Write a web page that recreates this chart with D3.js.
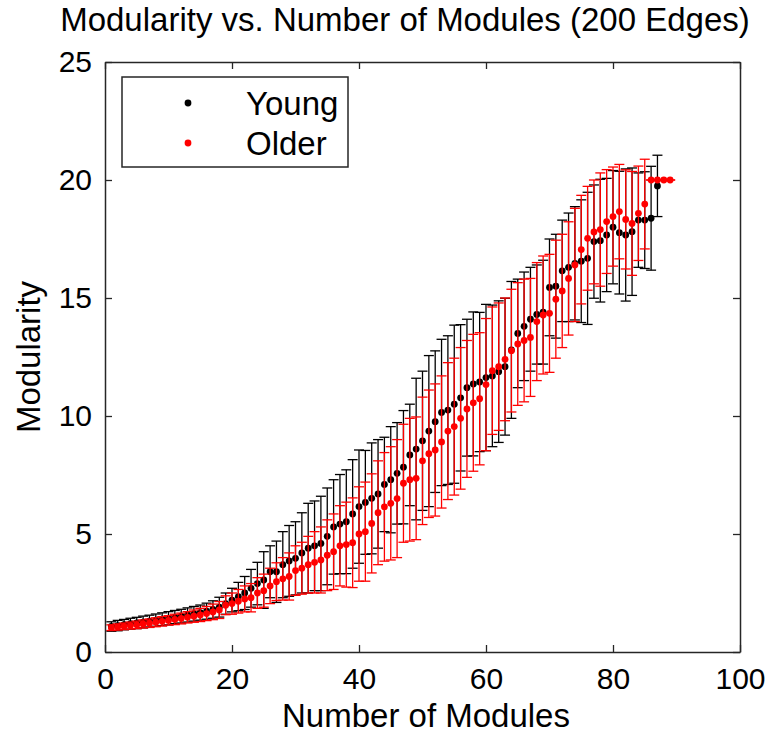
<!DOCTYPE html>
<html>
<head>
<meta charset="utf-8">
<script src="https://cdn.jsdelivr.net/npm/d3@7"></script>
<style>
  html, body { margin: 0; padding: 0; background: #fff; }
  svg { display: block; font-family: "Liberation Sans", Arial, Helvetica, sans-serif; }
</style>
</head>
<body>
<div id="chart"></div>
<script>
// ---- Data ----
const youngModules = d3.range(1, 88);   // 1..87
const youngMean = [
  1.08,1.12,1.16,1.20,1.23,1.27,1.31,1.35,1.39,1.43,
  1.48,1.52,1.57,1.62,1.67,1.73,1.80,1.90,2.05,2.20,
  2.35,2.50,2.70,2.90,3.05,3.40,3.40,3.70,3.86,3.97,
  4.20,4.40,4.50,4.60,4.90,5.30,5.42,5.52,5.85,6.16,
  6.34,6.51,6.70,7.10,7.30,7.57,7.83,8.35,8.60,8.95,
  9.36,9.76,10.15,10.25,10.50,10.77,11.20,11.36,11.44,11.63,
  11.70,11.88,12.09,12.80,13.50,13.80,14.10,14.30,14.40,15.45,
  15.50,16.15,16.30,16.47,16.56,16.68,17.39,17.43,17.67,18.00,
  17.77,17.67,17.81,18.30,18.30,18.38,19.75
];
const youngErr = [
  0.20,0.22,0.22,0.23,0.24,0.25,0.25,0.26,0.27,0.28,
  0.28,0.29,0.30,0.31,0.32,0.34,0.37,0.42,0.45,0.50,
  0.60,0.70,0.80,0.90,1.20,1.10,1.30,1.40,1.50,1.55,
  1.70,1.90,1.90,2.00,2.05,2.00,2.10,2.20,2.30,2.40,
  2.20,2.35,2.30,2.00,2.25,2.15,2.40,2.15,3.00,2.95,
  3.20,3.00,3.10,3.15,3.35,3.10,2.90,3.05,2.95,3.10,
  3.00,3.00,2.90,2.90,2.30,2.30,2.20,2.10,2.20,2.05,
  2.20,2.15,2.30,2.40,2.60,2.80,2.40,2.60,2.40,2.40,
  2.60,2.80,2.70,2.00,2.05,2.20,1.30
];
const olderModules = d3.range(1, 90);   // 1..89
const olderMean = [
  1.03,1.06,1.09,1.12,1.15,1.19,1.22,1.26,1.30,1.34,
  1.38,1.42,1.47,1.52,1.57,1.63,1.70,1.78,1.98,2.05,
  2.15,2.25,2.30,2.50,2.60,2.80,2.98,3.10,3.20,3.45,
  3.55,3.70,3.80,3.90,4.10,4.25,4.50,4.55,4.63,5.00,
  5.10,5.45,5.90,6.15,6.30,6.50,7.15,7.30,7.36,8.10,
  8.40,8.56,8.90,9.36,9.55,9.90,10.30,10.56,10.73,11.33,
  11.92,12.09,12.40,12.77,13.05,13.20,13.33,14.00,14.28,14.35,
  14.95,15.30,15.83,16.40,17.05,17.53,17.80,17.90,18.24,18.45,
  18.66,18.33,18.16,18.59,18.98,20.00,20.00,20.00,20.00
];
const olderErr = [
  0.12,0.13,0.14,0.15,0.16,0.17,0.18,0.19,0.20,0.20,
  0.22,0.23,0.24,0.26,0.28,0.30,0.33,0.36,0.40,0.45,
  0.50,0.55,0.60,0.65,0.70,0.75,0.80,0.90,1.00,1.05,
  1.10,1.20,1.30,1.40,1.50,1.60,1.70,1.80,1.90,2.00,
  2.10,2.10,2.20,2.30,2.40,2.50,2.50,2.60,2.60,2.70,
  2.70,2.80,2.80,2.90,2.90,3.00,2.90,2.90,2.80,2.80,
  2.70,2.70,2.60,2.60,2.60,2.60,2.50,2.50,2.50,2.50,
  2.50,2.40,2.40,2.40,2.30,2.20,2.20,2.40,2.20,2.10,
  2.00,2.10,2.20,2.00,1.90,0,0,0,0
];
const xTicks = [0, 20, 40, 60, 80, 100];
const yTicks = [0, 5, 10, 15, 20, 25];
const seriesNames = ["Young", "Older"];
const seriesColors = ["#000000", "#ff0000"];
const titleText = "Modularity vs. Number of Modules (200 Edges)";
const xLabelText = "Number of Modules";
const yLabelText = "Modularity";

// ---- Layout ----
const W = 773, H = 736;
const margin = { left: 105, right: 33, top: 62, bottom: 84 };
const iw = W - margin.left - margin.right;
const ih = H - margin.top - margin.bottom;

const svg = d3.select("#chart").append("svg").attr("width", W).attr("height", H);
const g = svg.append("g").attr("transform", `translate(${margin.left},${margin.top})`);

const x = d3.scaleLinear().domain([0, 100]).range([0, iw]);
const y = d3.scaleLinear().domain([0, 25]).range([ih, 0]);

const series = [
  { name: seriesNames[0], color: seriesColors[0],
    data: youngModules.map((m, i) => ({ m, v: youngMean[i], e: youngErr[i] })) },
  { name: seriesNames[1], color: seriesColors[1],
    data: olderModules.map((m, i) => ({ m, v: olderMean[i], e: olderErr[i] })) }
];

const capHalf = 5;
series.forEach(s => {
  const sg = g.append("g").attr("class", "series");
  const bars = sg.selectAll("g.bar").data(s.data).join("g").attr("class", "bar");
  bars.append("line")
    .attr("x1", d => x(d.m)).attr("x2", d => x(d.m))
    .attr("y1", d => y(d.v - d.e)).attr("y2", d => y(d.v + d.e))
    .attr("stroke", s.color).attr("stroke-width", 1.3);
  bars.append("line")
    .attr("x1", d => x(d.m) - capHalf).attr("x2", d => x(d.m) + capHalf)
    .attr("y1", d => y(d.v + d.e)).attr("y2", d => y(d.v + d.e))
    .attr("stroke", s.color).attr("stroke-width", 1.3);
  bars.append("line")
    .attr("x1", d => x(d.m) - capHalf).attr("x2", d => x(d.m) + capHalf)
    .attr("y1", d => y(d.v - d.e)).attr("y2", d => y(d.v - d.e))
    .attr("stroke", s.color).attr("stroke-width", 1.3);
  sg.selectAll("circle").data(s.data).join("circle")
    .attr("cx", d => x(d.m)).attr("cy", d => y(d.v)).attr("r", 3.4)
    .attr("fill", s.color);
});

// ---- Axes (MATLAB-style box with inward ticks) ----
const tickLen = 7;
const axisColor = "#262626";
const axB = g.append("g").attr("transform", `translate(0,${ih})`)
  .call(d3.axisBottom(x).tickValues(xTicks).tickSizeInner(-tickLen).tickSizeOuter(0).tickPadding(16));
const axT = g.append("g")
  .call(d3.axisTop(x).tickValues(xTicks).tickSizeInner(-tickLen).tickSizeOuter(0).tickFormat(""));
const axL = g.append("g")
  .call(d3.axisLeft(y).tickValues(yTicks).tickSizeInner(-tickLen).tickSizeOuter(0).tickPadding(13));
const axR = g.append("g").attr("transform", `translate(${iw},0)`)
  .call(d3.axisRight(y).tickValues(yTicks).tickSizeInner(-tickLen).tickSizeOuter(0).tickFormat(""));
[axB, axT, axL, axR].forEach(a => {
  a.select(".domain").attr("stroke", axisColor).attr("stroke-width", 1.5);
  a.selectAll(".tick line").attr("stroke", axisColor).attr("stroke-width", 1.3);
  a.selectAll("text").attr("fill", "#000").style("font-size", "30px")
    .style("font-family", "'Liberation Sans', Arial, sans-serif");
});
axB.selectAll(".tick text").attr("dy", "0.71em");

// ---- Titles ----
svg.append("text").attr("x", 405).attr("y", 31)
  .attr("text-anchor", "middle").style("font-size", "33px").text(titleText);
svg.append("text").attr("x", 426).attr("y", 727)
  .attr("text-anchor", "middle").style("font-size", "33px").text(xLabelText);
svg.append("text").attr("transform", `translate(40,${margin.top + ih / 2}) rotate(-90)`)
  .attr("text-anchor", "middle").style("font-size", "33px").text(yLabelText);

// ---- Legend ----
const lg = svg.append("g");
lg.append("rect").attr("x", 122).attr("y", 77).attr("width", 226).attr("height", 90)
  .attr("fill", "#fff").attr("stroke", axisColor).attr("stroke-width", 1.5);
series.forEach((s, i) => {
  const cy = 103 + i * 40;
  lg.append("circle").attr("cx", 188).attr("cy", cy).attr("r", 3.4).attr("fill", s.color);
  lg.append("text").attr("x", 246).attr("y", cy).attr("dy", "0.36em")
    .style("font-size", "33px").text(s.name);
});
</script>
</body>
</html>
